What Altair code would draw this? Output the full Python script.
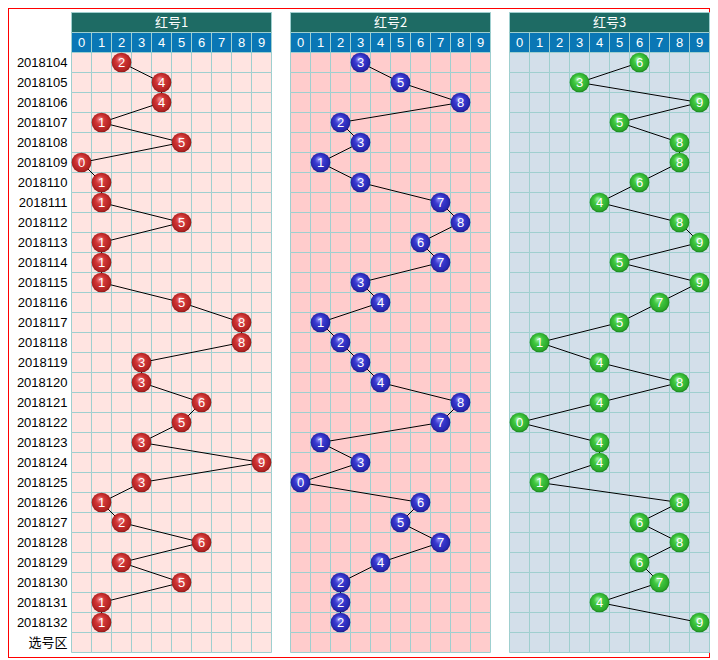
import altair as alt
import pandas as pd

periods = ["2018104", "2018105", "2018106", "2018107", "2018108", "2018109",
           "2018110", "2018111", "2018112", "2018113", "2018114", "2018115",
           "2018116", "2018117", "2018118", "2018119", "2018120", "2018121",
           "2018122", "2018123", "2018124", "2018125", "2018126", "2018127",
           "2018128", "2018129", "2018130", "2018131", "2018132"]
extra_row = "选号区"
digits = [0, 1, 2, 3, 4, 5, 6, 7, 8, 9]
titles = ["红号1", "红号2", "红号3"]

red1 = [2, 4, 4, 1, 5, 0, 1, 1, 5, 1, 1, 1, 5, 8, 8, 3, 3, 6, 5, 3, 9, 3, 1, 2, 6, 2, 5, 1, 1]
red2 = [3, 5, 8, 2, 3, 1, 3, 7, 8, 6, 7, 3, 4, 1, 2, 3, 4, 8, 7, 1, 3, 0, 6, 5, 7, 4, 2, 2, 2]
red3 = [6, 3, 9, 5, 8, 8, 6, 4, 8, 9, 5, 9, 7, 5, 1, 4, 8, 4, 0, 4, 4, 1, 8, 6, 8, 6, 7, 4, 9]
series = [red1, red2, red3]

# styling
panel_bg = ["#ffe4e1", "#ffcccc", "#d3dfea"]
grid_col = "#9fcfcf"
head_col = "#1e6b64"
digit_col = "#0a77b5"
balls = [
    ["#f59090", "#d23636", "#b42424", "#801212"],
    ["#9a9aff", "#3a3ad0", "#2828b2", "#16166e"],
    ["#a8f5a8", "#40c840", "#2caa2c", "#167016"],
]

PANEL_STEP = 10.95
X = alt.Scale(domain=[-3.175, 31.925], nice=False, zero=False)
Y = alt.Scale(domain=[-0.225, 32.275], reverse=True, nice=False, zero=False)

n_rows = len(periods) + 1
layers = []


def rect_layer(df, fill):
    return alt.Chart(df).mark_rect(fill=fill, stroke=grid_col, strokeWidth=1).encode(
        x=alt.X("x0:Q", scale=X, axis=None), x2="x1:Q",
        y=alt.Y("y0:Q", scale=Y, axis=None), y2="y1:Q")


def text_layer(df, color, size, font, field="t"):
    return alt.Chart(df).mark_text(color=color, fontSize=size, font=font,
                                   baseline="middle", align="center").encode(
        x=alt.X("x:Q", scale=X, axis=None),
        y=alt.Y("y:Q", scale=Y, axis=None),
        text=f"{field}:N")


for p in range(3):
    off = p * PANEL_STEP
    body = pd.DataFrame([
        {"x0": off + c, "x1": off + c + 1, "y0": 2 + r, "y1": 3 + r}
        for r in range(n_rows) for c in digits])
    layers.append(rect_layer(body, panel_bg[p]))
    drow = pd.DataFrame([{"x0": off + c, "x1": off + c + 1, "y0": 1, "y1": 2,
                          "x": off + c + 0.5, "y": 1.5, "t": str(c)} for c in digits])
    layers.append(rect_layer(drow, digit_col))
    layers.append(text_layer(drow, "white", 13, "Liberation Sans"))
    head = pd.DataFrame([{"x0": off, "x1": off + 10, "y0": 0, "y1": 1,
                          "x": off + 5, "y": 0.5, "t": titles[p]}])
    layers.append(rect_layer(head, head_col))
    layers.append(text_layer(head, "white", 13, "Noto Sans CJK SC"))

    vals = series[p]
    pts = pd.DataFrame({"i": list(range(len(vals))),
                        "v": vals,
                        "t": [str(v) for v in vals],
                        "x": [off + v + 0.5 for v in vals],
                        "y": [2 + i + 0.5 for i in range(len(vals))]})
    layers.append(alt.Chart(pts).mark_line(color="black", strokeWidth=1).encode(
        x=alt.X("x:Q", scale=X, axis=None),
        y=alt.Y("y:Q", scale=Y, axis=None),
        order="i:Q"))
    c0, c1, c2, c3 = balls[p]
    grad = {"gradient": "radial", "x1": 0.4, "y1": 0.3, "r1": 0.0,
            "x2": 0.5, "y2": 0.5, "r2": 0.55,
            "stops": [{"offset": 0, "color": c0}, {"offset": 0.4, "color": c1},
                      {"offset": 0.8, "color": c2}, {"offset": 1, "color": c3}]}
    layers.append(alt.Chart(pts).mark_point(shape="circle", filled=True, fill=grad,
                                            opacity=1, size=390, strokeWidth=0).encode(
        x=alt.X("x:Q", scale=X, axis=None),
        y=alt.Y("y:Q", scale=Y, axis=None)))
    layers.append(text_layer(pts, "white", 13, "Liberation Sans"))

labels = pd.DataFrame({"t": periods + [extra_row],
                       "x": [-0.2] * n_rows,
                       "y": [2 + r + 0.5 for r in range(n_rows)]})
layers.append(alt.Chart(labels).mark_text(color="black", fontSize=13,
                                          font="Liberation Sans, Noto Sans CJK SC",
                                          baseline="middle", align="right").encode(
    x=alt.X("x:Q", scale=X, axis=None),
    y=alt.Y("y:Q", scale=Y, axis=None),
    text="t:N"))

chart = alt.layer(*layers).properties(
    width=702, height=650, padding=0, background="white",
    autosize=alt.AutoSizeParams(type="none"),
).configure_view(stroke="#ff0000", strokeWidth=2)

chart.save("out.html", embed_options={"renderer": "svg", "actions": False})
